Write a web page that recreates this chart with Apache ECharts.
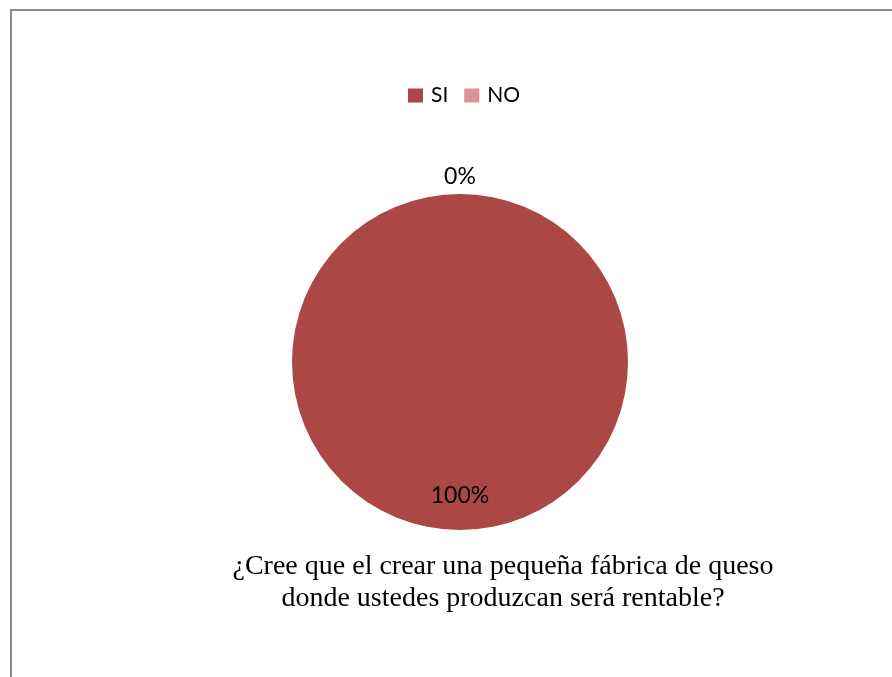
<!DOCTYPE html>
<html>
<head>
<meta charset="utf-8">
<script src="https://cdn.jsdelivr.net/npm/echarts@6/dist/echarts.min.js"></script>
<style>
  html, body { margin: 0; padding: 0; background: #ffffff; }
  #frame {
    position: absolute; left: 10px; top: 9px; width: 882px; height: 668px;
    border-left: 2px solid #8a8a8a; border-top: 2px solid #8a8a8a;
  }
  #chart { position: absolute; left: 0; top: 0; width: 892px; height: 677px; }
</style>
</head>
<body>
<div id="frame"></div>
<div id="chart"></div>
<script>
// Survey answers and their shares (percent)
const categories = ['SI', 'NO'];
const shares = [100, 0];
const colors = ['#AB4744', '#D89593'];
const question = '¿Cree que el crear una pequeña fábrica de queso\ndonde ustedes produzcan será rentable?';

// Label offsets from the default inside position of each slice
const labelOffsets = [[0, 47], [0, -98]];

const chart = echarts.init(document.getElementById('chart'), null, { renderer: 'canvas' });

chart.setOption({
  animation: false,
  color: colors,
  title: {
    text: question,
    left: 498,
    top: 546,
    textAlign: 'center',
    textStyle: {
      fontFamily: 'Liberation Serif',
      fontWeight: 'normal',
      fontSize: 28,
      lineHeight: 32,
      color: '#000000'
    }
  },
  legend: {
    data: categories,
    top: 80,
    left: 403,
    itemWidth: 15,
    itemHeight: 14,
    itemGap: 16,
    icon: 'rect',
    textStyle: { fontFamily: 'Lato', fontSize: 21, color: '#000000', padding: [0, 0, 0, 3] },
    selectedMode: false
  },
  series: [{
    type: 'pie',
    center: [460, 362],
    radius: [0, 168],
    startAngle: 90,
    clockwise: true,
    stillShowZeroSum: true,
    minAngle: 0,
    emphasis: { disabled: true },
    labelLine: { show: false },
    label: {
      show: true,
      position: 'inside',
      fontFamily: 'Lato',
      fontSize: 23,
      color: '#000000'
    },
    data: categories.map((name, i) => ({
      name: name,
      value: shares[i],
      label: { offset: labelOffsets[i], formatter: shares[i] + '%' }
    }))
  }]
});
</script>
</body>
</html>
